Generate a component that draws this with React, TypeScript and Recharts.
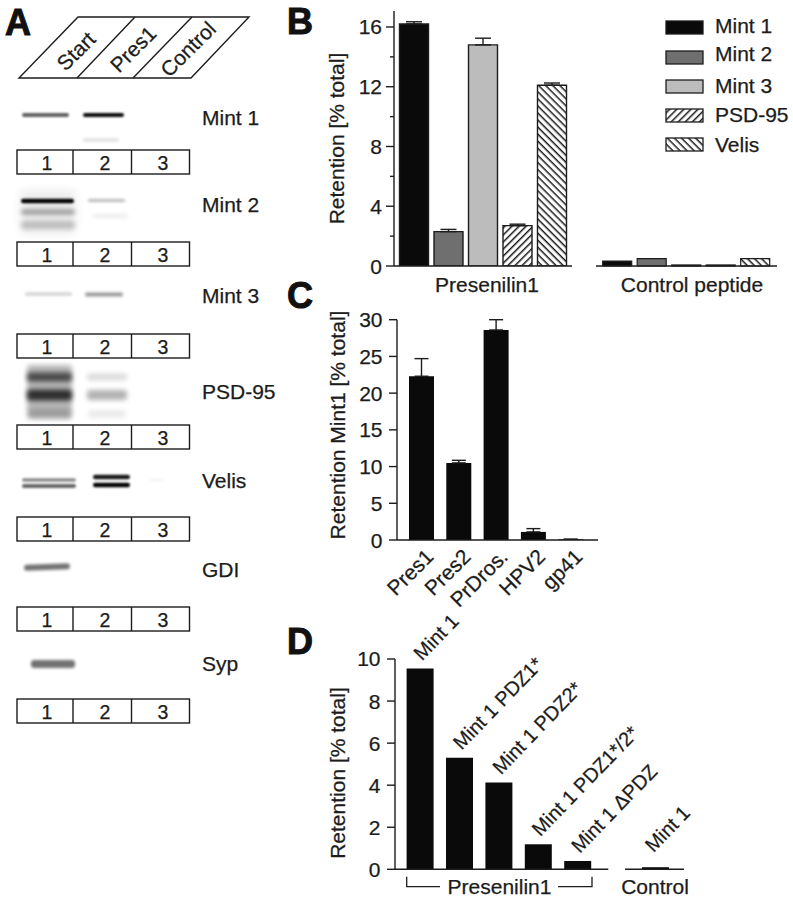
import React from 'react';
import { BarChart, Bar, XAxis, YAxis, ErrorBar, Cell, LabelList } from 'recharts';

const INK = '#1c1c1c';
const FONT = '"Liberation Sans", Arial, sans-serif';

// Panel B
const proteins = ['Mint 1', 'Mint 2', 'Mint 3', 'PSD-95', 'Velis'];
const presenilinRetention = [16.2, 2.3, 14.8, 2.7, 12.1];
const presenilinError = [0.15, 0.15, 0.45, 0.1, 0.15];
const controlRetention = [0.33, 0.5, 0.07, 0.07, 0.5];
const proteinFills = ['#0a0a0a', '#6f6f6f', '#bcbcbc', 'url(#hatchUp)', 'url(#hatchDown)'];
const retentionTicks = [0, 2, 4, 6, 8, 10, 12, 14, 16];

// Panel C
const peptides = ['Pres1', 'Pres2', 'PrDros.', 'HPV2', 'gp41'];
const peptideRetention = [22.3, 10.5, 28.6, 1.1, 0.1];
const peptideError = [2.4, 0.35, 1.4, 0.45, 0];
const peptideTicks = [0, 5, 10, 15, 20, 25, 30];

// Panel D
const mutants = ['Mint 1', 'Mint 1 PDZ1*', 'Mint 1 PDZ2*', 'Mint 1 PDZ1*/2*', 'Mint 1 ΔPDZ'];
const mutantRetention = [9.55, 5.3, 4.13, 1.19, 0.39];
const controlMutants = ['Mint 1'];
const controlMutantRetention = [0.1];
const mutantTicks = [0, 2, 4, 6, 8, 10];

// Panel A
const laneNumbers = ['1', '2', '3'];
const laneHeaders = ['Start', 'Pres1', 'Control'];
const blotNames = ['Mint 1', 'Mint 2', 'Mint 3', 'PSD-95', 'Velis', 'GDI', 'Syp'];
const blotNameBaselines = [125, 212, 303, 399, 488, 577, 671];
const laneBoxTops = [150, 242, 334, 425, 517, 607, 699];
const bands: [number, number, number, number, number, number][] = [
  [22, 69, 115, 4, 0.62, 1.3], [83, 124, 115, 4, 0.95, 1.1], [83, 119, 140, 3, 0.14, 1.6],
  [20, 76, 212, 44, 0.07, 5], [21, 74, 201, 4.5, 1, 1.1], [21, 75, 212, 6, 0.3, 2.2], [21, 75, 225, 8, 0.2, 2.5],
  [88, 125, 200.5, 3, 0.28, 1.5], [92, 128, 216, 3, 0.1, 2],
  [25, 72, 294, 3, 0.2, 1.5], [85, 123, 294.5, 4, 0.4, 1.5],
  [27, 72, 392, 54, 0.28, 2.5], [27, 72, 377, 9, 0.6, 2.5], [27, 72, 395, 11, 0.75, 2.5], [29, 71, 413, 9, 0.14, 2.5],
  [87, 127, 377, 7, 0.14, 2.5], [87, 127, 395, 10, 0.3, 2.5], [88, 126, 414, 8, 0.08, 2.5],
  [22, 76, 480, 3.5, 0.45, 1.3], [22, 76, 486, 4, 0.6, 1.3], [93, 130, 477, 4.5, 0.9, 1.3], [93, 130, 485, 4.5, 1, 1.3], [150, 163, 480, 1.5, 0.06, 1],
  [24, 70, 567, 6, 0.55, 1.8],
  [31, 75, 664, 8, 0.55, 1.8],
];

const bChartData = proteins.map((name, i) => ({ name, value: presenilinRetention[i], err: [0, presenilinError[i]] }));
const bControlData = proteins.map((name, i) => ({ name, value: controlRetention[i] }));
const cChartData = peptides.map((name, i) => ({ name, value: peptideRetention[i], err: [0, peptideError[i]] }));
const dChartData = mutants.map((name, i) => ({ name, value: mutantRetention[i] }));
const dControlData = controlMutants.map((name, i) => ({ name, value: controlMutantRetention[i] }));

const heft = { stroke: INK, strokeWidth: 0.25 };

const yTick = (isMajor: (v: number) => boolean, gap: number) => (p: any) => {
  const v = p.payload.value;
  const major = isMajor(v);
  return (
    <g>
      <line x1={p.x - (major ? 8 : 4)} x2={p.x} y1={p.y} y2={p.y} stroke={INK} strokeWidth={1.4} />
      {major && (
        <text x={p.x - gap} y={p.y + 7.5} textAnchor="end" fontSize={21} fontFamily={FONT} fill={INK} {...heft}>{v}</text>
      )}
    </g>
  );
};

const slantedTick = (p: any) => {
  const tx = p.x + 13;
  const ty = p.y + 16;
  return (
    <text x={tx} y={ty} textAnchor="end" fontSize={21} fontFamily={FONT} fill={INK} {...heft}
      transform={`rotate(-45 ${tx} ${ty})`}>{p.payload.value}</text>
  );
};

const slantedLabel = (dx: number, dy: number) => (p: any) => {
  const tx = p.x + p.width / 2 + dx;
  const ty = p.y + dy;
  return (
    <text x={tx} y={ty} textAnchor="start" fontSize={20} fontFamily={FONT} fill={INK} {...heft}
      transform={`rotate(-46 ${tx} ${ty})`}>{p.value}</text>
  );
};

const axisLine = { stroke: INK, strokeWidth: 1.4 };

function Overlay() {
  const t = { fontFamily: FONT, fill: INK, ...heft } as const;
  return (
    <svg width={793} height={900} style={{ position: 'absolute', left: 0, top: 0, pointerEvents: 'none' }}>
      <defs>
        {[1, 1.1, 1.3, 1.5, 1.6, 1.8, 2, 2.2, 2.5, 4, 5].map((b) => (
          <filter key={b} id={`blur${String(b).replace('.', '_')}`} x="-30%" y="-200%" width="160%" height="500%">
            <feGaussianBlur stdDeviation={b} />
          </filter>
        ))}
        <pattern id="lgUp" width="5" height="5" patternUnits="userSpaceOnUse" patternTransform="rotate(-45)">
          <rect width="5" height="5" fill="#fff" /><rect width="5" height="1.5" fill={INK} />
        </pattern>
        <pattern id="lgDown" width="5" height="5" patternUnits="userSpaceOnUse" patternTransform="rotate(45)">
          <rect width="5" height="5" fill="#fff" /><rect width="5" height="1.5" fill={INK} />
        </pattern>
      </defs>

      {/* panel letters */}
      {[['A', 5, 35], ['B', 287, 34], ['C', 287, 308], ['D', 287, 654]].map(([l, x, y]) => (
        <text key={l as string} x={x as number} y={y as number} fontSize={36} fontWeight="bold" fontFamily={FONT} fill="#111" stroke="#111" strokeWidth={1}>{l}</text>
      ))}

      {/* panel A header */}
      <polygon points="19,78 191,78 249,17 78,17" fill="none" stroke={INK} strokeWidth={1.4} />
      <line x1={77} y1={78} x2={135} y2={17} stroke={INK} strokeWidth={1.4} />
      <line x1={133} y1={78} x2={192} y2={17} stroke={INK} strokeWidth={1.4} />
      {laneHeaders.map((h, i) => {
        const cx = [76, 133, 188][i];
        const cy = [51, 49, 49][i];
        return (
          <text key={h} x={cx} y={cy} textAnchor="middle" dominantBaseline="central" fontSize={21} {...t}
            transform={`rotate(-45 ${cx} ${cy})`}>{h}</text>
        );
      })}

      {/* blot bands */}
      {bands.map(([x1, x2, y, h, o, b], i) => (
        <rect key={i} x={x1} y={y - h / 2} width={x2 - x1} height={h} rx={Math.min(h / 2, 3)} fill="#000" opacity={o}
          filter={`url(#blur${String(b).replace('.', '_')})`}
          transform={i === 23 ? 'rotate(-2 47 567)' : undefined} />
      ))}

      {/* lane boxes */}
      {laneBoxTops.map((top, i) => (
        <g key={i}>
          <rect x={17} y={top} width={172.5} height={24} fill="#fff" stroke={INK} strokeWidth={1.4} />
          <line x1={73} x2={73} y1={top} y2={top + 24} stroke={INK} strokeWidth={1.4} />
          <line x1={131.5} x2={131.5} y1={top} y2={top + 24} stroke={INK} strokeWidth={1.4} />
          {laneNumbers.map((n, j) => (
            <text key={n} x={[47, 105, 163][j]} y={top + 20} textAnchor="middle" fontSize={19.5} {...t}>{n}</text>
          ))}
        </g>
      ))}
      {blotNames.map((n, i) => (
        <text key={n} x={202} y={blotNameBaselines[i]} fontSize={21} {...t}>{n}</text>
      ))}

      {/* panel B legend */}
      {proteins.map((n, i) => {
        const top = [21, 51, 80, 109, 138][i];
        const base = [33, 61, 93, 122, 152][i];
        const fill = ['#0a0a0a', '#6f6f6f', '#bcbcbc', 'url(#lgUp)', 'url(#lgDown)'][i];
        return (
          <g key={n}>
            <rect x={666} y={top} width={37} height={13} fill={fill} stroke={INK} strokeWidth={1.3} />
            <text x={715} y={base} fontSize={21} {...t}>{n}</text>
          </g>
        );
      })}

      {/* axis titles */}
      <text x={344} y={138.5} textAnchor="middle" fontSize={21} {...t} transform="rotate(-90 344 138.5)">Retention [% total]</text>
      <text x={345} y={425} textAnchor="middle" fontSize={21} {...t} transform="rotate(-90 345 425)">Retention Mint1 [% total]</text>
      <text x={345} y={773} textAnchor="middle" fontSize={21} {...t} transform="rotate(-90 345 773)">Retention [% total]</text>
      <text x={487} y={292} textAnchor="middle" fontSize={21} {...t}>Presenilin1</text>
      <text x={692} y={292} textAnchor="middle" fontSize={21} {...t}>Control peptide</text>
      <text x={499.5} y={894} textAnchor="middle" fontSize={21} {...t}>Presenilin1</text>
      <text x={655} y={894} textAnchor="middle" fontSize={21} {...t}>Control</text>

      {/* panel D bracket */}
      <polyline points="406.7,876.7 406.7,886.7 440,886.7" fill="none" stroke={INK} strokeWidth={1.3} />
      <polyline points="558,886.7 592,886.7 592,876.7" fill="none" stroke={INK} strokeWidth={1.3} />
    </svg>
  );
}

export default function App() {
  return (
    <div style={{ position: 'absolute', left: 0, top: 0, width: 793, height: 900, background: '#fff', overflow: 'hidden' }}>
      {/* B: presenilin */}
      <div style={{ position: 'absolute', left: 334, top: 0 }}>
        <BarChart width={238} height={300} data={bChartData} margin={{ top: 11, right: 0, bottom: 0, left: 0 }} barCategoryGap={0} barSize={29}>
          <defs>
            <pattern id="hatchUp" width="5" height="5" patternUnits="userSpaceOnUse" patternTransform="rotate(-45)">
              <rect width="5" height="5" fill="#fff" /><rect width="5" height="1.5" fill={INK} />
            </pattern>
            <pattern id="hatchDown" width="5" height="5" patternUnits="userSpaceOnUse" patternTransform="rotate(45)">
              <rect width="5" height="5" fill="#fff" /><rect width="5" height="1.5" fill={INK} />
            </pattern>
          </defs>
          <XAxis dataKey="name" height={34} tick={false} tickLine={false} axisLine={axisLine} padding={{ left: 2.5, right: 3 }} />
          <YAxis width={60} domain={[0, 17.07]} ticks={retentionTicks} interval={0} tick={yTick((v) => v % 4 === 0, 12)} tickLine={false} tickSize={0} tickMargin={0} axisLine={axisLine} allowDataOverflow />
          <Bar dataKey="value" isAnimationActive={false} stroke={INK} strokeWidth={1.4}>
            {bChartData.map((d, i) => <Cell key={d.name} fill={proteinFills[i]} />)}
            <ErrorBar dataKey="err" direction="y" width={8} stroke={INK} strokeWidth={1.4} isAnimationActive={false} />
          </Bar>
        </BarChart>
      </div>

      {/* B: control peptide */}
      <div style={{ position: 'absolute', left: 596, top: 0 }}>
        <BarChart width={181} height={300} data={bControlData} margin={{ top: 11, right: 0, bottom: 0, left: 0 }} barCategoryGap={0} barSize={29}>
          <defs>
            <pattern id="hatchDownC" width="5" height="5" patternUnits="userSpaceOnUse" patternTransform="rotate(45)">
              <rect width="5" height="5" fill="#fff" /><rect width="5" height="1.5" fill={INK} />
            </pattern>
          </defs>
          <XAxis dataKey="name" height={34} tick={false} tickLine={false} axisLine={axisLine} padding={{ left: 3.7, right: 4.8 }} />
          <YAxis hide width={0} domain={[0, 17.07]} />
          <Bar dataKey="value" isAnimationActive={false} stroke={INK} strokeWidth={1.2}>
            {bControlData.map((d, i) => (
              <Cell key={d.name} fill={i === 4 ? 'url(#hatchDownC)' : proteinFills[i]} />
            ))}
          </Bar>
        </BarChart>
      </div>

      {/* C */}
      <div style={{ position: 'absolute', left: 337, top: 300 }}>
        <BarChart width={261} height={330} data={cChartData} margin={{ top: 19.7, right: 0, bottom: 0, left: 0 }} barCategoryGap={0} barSize={25}>
          <XAxis dataKey="name" height={90} interval={0} tick={slantedTick} tickLine={false} tickSize={0} axisLine={axisLine} padding={{ left: 6, right: 8.5 }} />
          <YAxis width={60} domain={[0, 30]} ticks={peptideTicks} interval={0} tick={yTick(() => true, 14.5)} tickLine={false} tickSize={0} tickMargin={0} axisLine={axisLine} />
          <Bar dataKey="value" fill="#0a0a0a" isAnimationActive={false}>
            <ErrorBar dataKey="err" direction="y" width={7} stroke={INK} strokeWidth={1.4} isAnimationActive={false} />
          </Bar>
        </BarChart>
      </div>

      {/* D: presenilin */}
      <div style={{ position: 'absolute', left: 334.7, top: 600 }}>
        <BarChart width={333.3} height={300} data={dChartData} margin={{ top: 59, right: 60, bottom: 0, left: 0 }} barCategoryGap={0} barSize={27}>
          <XAxis dataKey="name" height={30.7} tick={false} tickLine={false} axisLine={axisLine} padding={{ left: 5.6, right: 10.7 }} />
          <YAxis width={60} domain={[0, 10]} ticks={mutantTicks} interval={0} tick={yTick(() => true, 14.5)} tickLine={false} tickSize={0} tickMargin={0} axisLine={axisLine} />
          <Bar dataKey="value" fill="#0a0a0a" isAnimationActive={false}>
            <LabelList dataKey="name" content={slantedLabel(2, -7)} />
          </Bar>
        </BarChart>
      </div>

      {/* D: control */}
      <div style={{ position: 'absolute', left: 625, top: 600 }}>
        <BarChart width={89} height={300} data={dControlData} margin={{ top: 59, right: 30, bottom: 0, left: 0 }} barCategoryGap={0} barSize={27}>
          <XAxis dataKey="name" height={30.7} tick={false} tickLine={false} axisLine={axisLine} padding={{ left: 2, right: 0 }} />
          <YAxis hide width={0} domain={[0, 10]} />
          <Bar dataKey="value" fill="#0a0a0a" isAnimationActive={false}>
            <LabelList dataKey="name" content={slantedLabel(-2, -14)} />
          </Bar>
        </BarChart>
      </div>

      <Overlay />
    </div>
  );
}
